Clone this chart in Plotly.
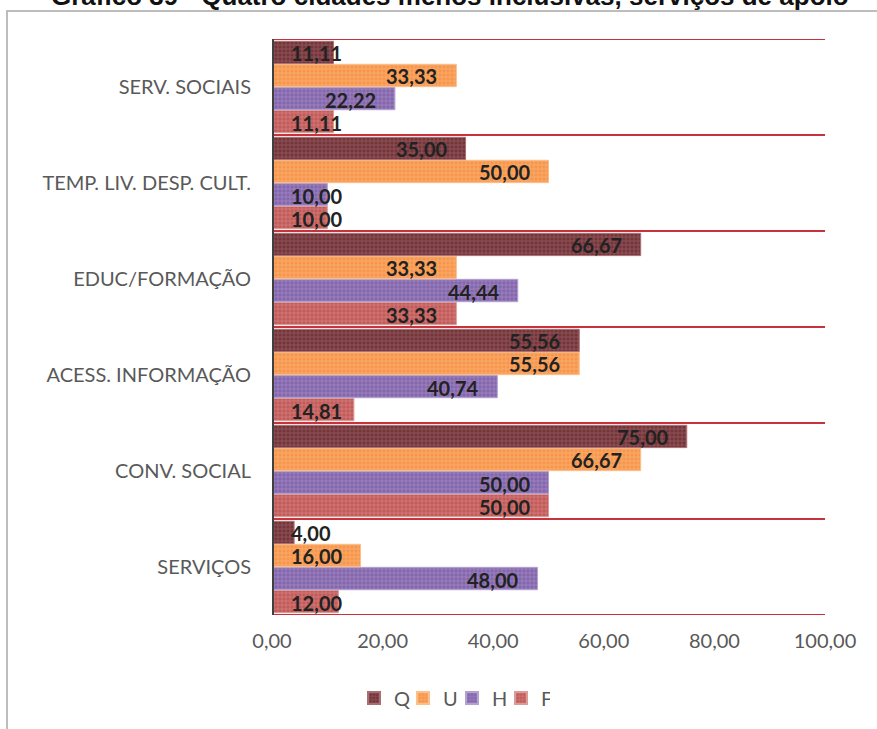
import plotly.graph_objects as go

# Categories listed bottom-to-top as they appear on the axis
categories = ["SERVIÇOS", "CONV. SOCIAL", "ACESS. INFORMAÇÃO",
              "EDUC/FORMAÇÃO", "TEMP. LIV. DESP. CULT.", "SERV. SOCIAIS"]
series_names = ["Q", "U", "H", "F"]
values_Q = [4.00, 75.00, 55.56, 66.67, 35.00, 11.11]
values_U = [16.00, 66.67, 55.56, 33.33, 50.00, 33.33]
values_H = [48.00, 50.00, 40.74, 44.44, 10.00, 22.22]
values_F = [12.00, 50.00, 14.81, 33.33, 10.00, 11.11]
x_ticks = [0, 20, 40, 60, 80, 100]
x_tick_labels = ["0,00", "20,00", "40,00", "60,00", "80,00", "100,00"]
title_text = "Gráfico 39 - Quatro cidades menos inclusivas, serviços de apoio"

series_values = {"Q": values_Q, "U": values_U, "H": values_H, "F": values_F}
base_colors = {"Q": "#74353a", "U": "#f7964a", "H": "#8466ad", "F": "#c25a58"}
dot_colors = {"Q": "#b07a7e", "U": "#fbc79a", "H": "#b9a8d4", "F": "#e2a3a2"}
edge_colors = {"Q": "#a86f73", "U": "#fbbf8c", "H": "#b3a1d0", "F": "#dc9a99"}

W, H = 877, 729
L, R, T, B = 272, 52, 39, 114
plot_w = W - L - R
plot_h = H - T - B


def fmt(v):
    return f"{v:.2f}".replace(".", ",")


fig = go.Figure()

# F first so that Q sits at the top of each group
for name in ["F", "H", "U", "Q"]:
    fig.add_trace(go.Bar(
        name=name,
        y=categories,
        x=series_values[name],
        orientation="h",
        marker=dict(
            color=base_colors[name],
            line=dict(color=edge_colors[name], width=1),
            pattern=dict(shape="+", size=4, solidity=0.35,
                         fgcolor=dot_colors[name], fillmode="overlay"),
        ),
        hoverinfo="skip",
    ))

# value labels: right-aligned inside the bar end, pushed out for short bars
group_order = ["F", "H", "U", "Q"]
n = len(group_order)
slot = 0.96 / n
px_per_unit = plot_w / 100.0
annotations = []
for gi, name in enumerate(group_order):
    offset = -0.48 + slot * (gi + 0.5)
    for ci, v in enumerate(series_values[name]):
        bar_px = v * px_per_unit
        if bar_px - 17 - 54 < 18:
            x, anchor, shift = 0, "left", 17
        else:
            x, anchor, shift = v, "right", -17
        annotations.append(dict(
            x=x, y=ci + offset, xref="x", yref="y",
            text=fmt(v), showarrow=False, xanchor=anchor, yanchor="middle",
            xshift=shift, yshift=-1,
            font=dict(family="Lato", size=20, color="#222222", weight="bold"),
        ))

# title, partly above the top of the page
annotations.append(dict(
    x=(450 - L) / plot_w, y=(615 + 4) / plot_h, xref="paper", yref="paper",
    text="<b>" + title_text + "</b>", showarrow=False,
    xanchor="center", yanchor="middle",
    font=dict(family="Liberation Sans", size=26, color="#111111"),
))

shapes = []
# category separator lines
for i in range(len(categories) + 1):
    shapes.append(dict(type="line", xref="x", yref="y",
                       x0=0, x1=100, y0=i - 0.5, y1=i - 0.5,
                       line=dict(color="#c8323a", width=2), layer="below"))
# vertical axis line at zero
shapes.append(dict(type="line", xref="x", yref="y",
                   x0=0, x1=0, y0=-0.5, y1=len(categories) - 0.5,
                   line=dict(color="#404040", width=4), layer="above"))
# chart frame
shapes.append(dict(type="rect", xref="paper", yref="paper",
                   x0=(7 - L) / plot_w, x1=(905 - L) / plot_w,
                   y0=(T + plot_h - 760) / plot_h, y1=(T + plot_h - 11) / plot_h,
                   line=dict(color="#bdbdbd", width=2), fillcolor="rgba(0,0,0,0)",
                   layer="below"))

fig.update_layout(
    width=W, height=H,
    margin=dict(l=L, r=R, t=T, b=B, pad=0),
    paper_bgcolor="white", plot_bgcolor="white",
    barmode="group", bargap=0.04, bargroupgap=0.03,
    showlegend=True,
    legend=dict(orientation="h", x=(452 - L) / plot_w, xanchor="center",
                y=-(698 - 615) / plot_h, yanchor="middle",
                traceorder="reversed",
                font=dict(family="Lato", size=20, color="#595959"),
                itemwidth=30, itemsizing="constant",
                entrywidth=4, entrywidthmode="pixels"),
    annotations=annotations,
    shapes=shapes,
    font=dict(family="Lato", color="#595959"),
)
fig.update_xaxes(range=[0, 100], tickvals=x_ticks, ticktext=x_tick_labels,
                 showgrid=False, zeroline=False, showline=False,
                 tickfont=dict(family="Lato", size=20, color="#595959"),
                 ticks="", ticklabelstandoff=12, fixedrange=True)
fig.update_yaxes(categoryorder="array", categoryarray=categories,
                 range=[-0.5, len(categories) - 0.5],
                 showgrid=False, zeroline=False, showline=False,
                 tickfont=dict(family="Lato", size=20, color="#595959"),
                 ticks="", ticklabelstandoff=20, fixedrange=True)

fig.write_html("out.html", config={"displayModeBar": False})
